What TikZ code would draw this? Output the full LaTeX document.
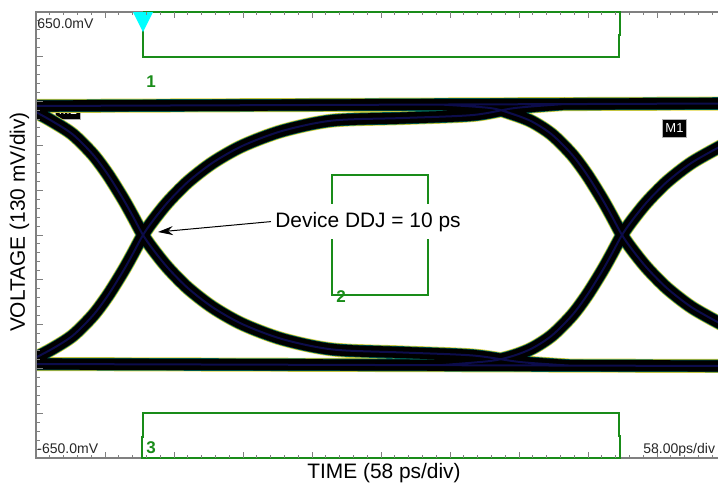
\documentclass[tikz,border=0pt]{standalone}
\usepackage{fontspec}
\setmainfont{Liberation Sans}
\usetikzlibrary{arrows.meta}
\definecolor{maskgreen}{RGB}{25,140,25}
\definecolor{gridgray}{RGB}{128,128,128}
\definecolor{fringe}{RGB}{225,210,60}
\definecolor{tealedge}{RGB}{0,100,85}
\definecolor{navy}{RGB}{12,12,75}
\definecolor{trigcyan}{RGB}{0,255,255}

\begin{document}
\begin{tikzpicture}[x=0.5pt,y=-0.5pt,
  eye/.style={draw=black,line width=5.6pt,
    preaction={draw=fringe,line width=7pt},
    preaction={draw=tealedge,line width=6.3pt},
    postaction={draw=navy,line width=1pt}},
  frame/.style={draw=gridgray,line width=0.8pt},
  tick/.style={draw=gridgray,line width=0.5pt},
  mask/.style={draw=maskgreen,line width=0.8pt},
  scalelbl/.style={font=\fontsize{7}{8}\selectfont,text=black!85,inner sep=0pt},
  masklbl/.style={font=\fontsize{8.5}{10}\selectfont\bfseries,text=maskgreen,inner sep=0pt},
  axislbl/.style={font=\fontsize{10.45}{12}\selectfont,inner sep=0pt},
  mbox/.style={fill=black,draw=gray!60,text=white,font=\fontsize{6.5}{7}\selectfont,
    inner xsep=1.6pt,inner ysep=0pt,minimum height=9pt}]
\useasboundingbox (0,0) rectangle (718,483);

% marker hidden under the top rail
\node[mbox] (mzero) at (68,110) {M1};

% eye traces
\begin{scope}
\clip (37,12) rectangle (718,458);
\draw[eye] (30,106) -- (725,103.5)
  (30,364) -- (725,366)
  plot[smooth] coordinates {(25,107) (33,110.5) (53,121.6) (73,134.6) (93,154.6) (108,174.7)
    (123,198.7) (133,216.5) (143,235) (153,249.4) (168,268) (188,288.2) (213,307.5)
    (243,324.4) (283,339.3) (333,349.5) (403,352.5) (473,355.5) (520,362) (570,365.6)}
  plot[smooth] coordinates {(25,363) (33,359) (53,348.4) (73,335.4) (93,315.4) (108,295.3)
    (123,271.3) (133,253.5) (143,235) (153,220.6) (168,202) (188,181.8) (213,162.5)
    (243,145.6) (283,130.7) (333,120.5) (403,118) (473,115) (515,108) (565,104)}
  plot[smooth] coordinates {(440,104.5) (490,108) (512,113.8) (532,121.6) (552,134.6) (572,154.6)
    (587,174.7) (602,198.7) (612,216.5) (622,235) (632,249.4) (647,268) (667,288.2)
    (692,307.5) (722,324.4)}
  plot[smooth] coordinates {(440,365.2) (490,361) (512,356.2) (532,348.4) (552,335.4) (572,315.4)
    (587,295.3) (602,271.3) (612,253.5) (622,235) (632,220.6) (647,202) (667,181.8)
    (692,162.5) (722,145.6)};
\end{scope}

% graticule frame
\draw[frame] (718,12) -- (36,12) -- (36,458) -- (718,458);

% masks
\draw[mask] (143,30) -- (143,57) -- (619,57) -- (619,35) -- (620,35) -- (620,12) -- (143,12);
\draw[mask] (332,175) rectangle (428,295);
\draw[mask] (142,458) -- (142,437) -- (143,437) -- (143,413) -- (619,413) -- (619,436)
  -- (620,436) -- (620,458) -- cycle;
\fill[trigcyan] (133,12) -- (153,12) -- (143,32) -- cycle;

% ticks
\foreach \i in {1,...,49} {
  \draw[tick] (36+13.8*\i,12) -- ++(0,3);
  \draw[tick] (36+13.8*\i,458) -- ++(0,-3);
  \draw[tick] (36,12+8.92*\i) -- ++(4,0);
}
\foreach \i in {5,10,...,45} {
  \draw[tick] (36+13.8*\i,12) -- ++(0,6);
  \draw[tick] (36+13.8*\i,458) -- ++(0,-6);
  \draw[tick] (36,12+8.92*\i) -- ++(7,0);
}

% scale readouts
\node[scalelbl,anchor=base west] (vtop) at (37,28) {650.0mV};
\node[scalelbl,anchor=base west] (vbot) at (37,453) {-650.0mV};
\node[scalelbl,anchor=base west] (tdiv) at (643,453) {58.00ps/div};
\node[masklbl,anchor=base west] (maskone) at (146,87) {1};
\node[masklbl,anchor=base west] (masktwo) at (336,302) {2};
\node[masklbl,anchor=base west] (maskthree) at (146,453) {3};
\node[mbox] (mone) at (674.5,128) {M1};

% annotation
\node[axislbl,fill=white,inner xsep=2pt,inner ysep=4pt,anchor=base] (ddj) at (368,227) {Device DDJ = 10 ps};
\coordinate (xcross) at (158,232);
\draw[-{Stealth[length=7.5pt,width=4.5pt]},line width=0.5pt] (ddj.west) -- (xcross);

% axis titles
\node[axislbl,anchor=base] (tlabel) at (384,478) {TIME (58 ps/div)};
\node[axislbl,anchor=base,rotate=90] (vlabel) at (25,222) {VOLTAGE (130 mV/div)};
\end{tikzpicture}
\end{document}
